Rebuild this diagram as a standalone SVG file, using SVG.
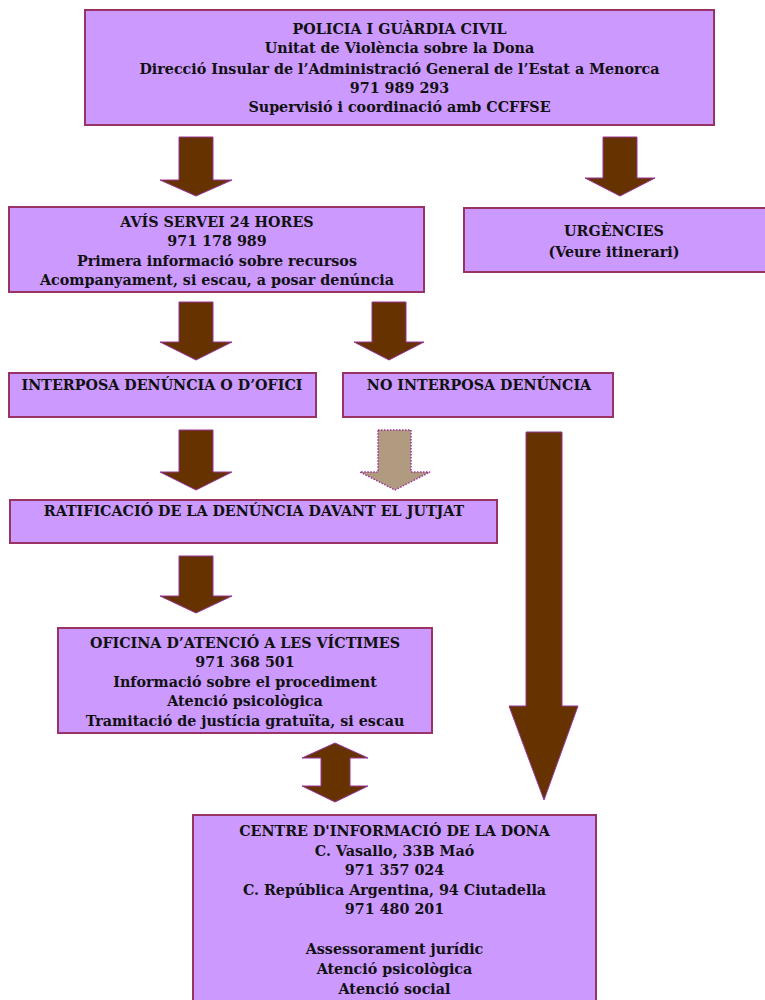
<svg xmlns="http://www.w3.org/2000/svg" width="765" height="1000" viewBox="0 0 765 1000">
<style>
.box{fill:#cc99ff;stroke:#993366;stroke-width:2}
.t{font-family:"DejaVu Serif","Liberation Serif",serif;font-weight:bold;font-size:14.3px;fill:#111;text-anchor:middle}
.arr{fill:#663300;stroke:#993399;stroke-width:1}
.arrl{fill:#b09a80;stroke:#993399;stroke-width:1.5;stroke-dasharray:1.5 1.5}
</style>
<rect width="765" height="1000" fill="#fff"/>
<g id="connectors">
<polygon class="arr" points="179,137 213,137 213,180 232,180 196,196 160,180 179,180"/>
<polygon class="arr" points="603,137 637,137 637,178 655,178 620,196 585,178 603,178"/>
<polygon class="arr" points="179,302 213,302 213,342 232,342 196,360 160,342 179,342"/>
<polygon class="arr" points="372,302 406,302 406,342 424,342 389,360 354,342 372,342"/>
<polygon class="arr" points="179,430 213,430 213,472 232,472 196,490 160,472 179,472"/>
<polygon class="arrl" points="378,430 411,430 411,472 430,472 395,490 360,472 378,472"/>
<polygon class="arr" points="526,432 562,432 562,706 578,706 544,800 509,706 526,706"/>
<polygon class="arr" points="179,556 213,556 213,596 232,596 196,613 160,596 179,596"/>
<polygon class="arr" points="335,743 368,758 350,758 350,786 368,786 335,802 302,786 321,786 321,758 302,758"/>
</g>
<g id="policia">
<rect class="box" x="85" y="10" width="629" height="115"/>
<text class="t" x="399.5" y="34">POLICIA I GUÀRDIA CIVIL</text>
<text class="t" x="399.5" y="53">Unitat de Violència sobre la Dona</text>
<text class="t" x="399.5" y="74">Direcció Insular de l’Administració General de l’Estat a Menorca</text>
<text class="t" x="399.5" y="93">971 989 293</text>
<text class="t" x="399.5" y="112">Supervisió i coordinació amb CCFFSE</text>
</g>
<g id="avis">
<rect class="box" x="9" y="207" width="415" height="85"/>
<text class="t" x="217" y="227">AVÍS SERVEI 24 HORES</text>
<text class="t" x="217" y="246">971 178 989</text>
<text class="t" x="217" y="266">Primera informació sobre recursos</text>
<text class="t" x="217" y="285">Acompanyament, si escau, a posar denúncia</text>
</g>
<g id="urgencies">
<rect class="box" x="464" y="208" width="306" height="64"/>
<text class="t" x="614" y="236">URGÈNCIES</text>
<text class="t" x="614" y="257">(Veure itinerari)</text>
</g>
<g id="interposa">
<rect class="box" x="9" y="373" width="307" height="44"/>
<text class="t" x="162" y="390">INTERPOSA DENÚNCIA O D’OFICI</text>
</g>
<g id="nointerposa">
<rect class="box" x="343" y="373" width="270" height="44"/>
<text class="t" x="479" y="390">NO INTERPOSA DENÚNCIA</text>
</g>
<g id="ratificacio">
<rect class="box" x="10" y="500" width="487" height="43"/>
<text class="t" x="254" y="516">RATIFICACIÓ DE LA DENÚNCIA DAVANT EL JUTJAT</text>
</g>
<g id="oficina">
<rect class="box" x="58" y="628" width="374" height="105"/>
<text class="t" x="245" y="648">OFICINA D’ATENCIÓ A LES VÍCTIMES</text>
<text class="t" x="245" y="667">971 368 501</text>
<text class="t" x="245" y="687">Informació sobre el procediment</text>
<text class="t" x="245" y="706">Atenció psicològica</text>
<text class="t" x="245" y="726">Tramitació de justícia gratuïta, si escau</text>
</g>
<g id="centre">
<rect class="box" x="193" y="815" width="403" height="200"/>
<text class="t" x="394.5" y="836">CENTRE D'INFORMACIÓ DE LA DONA</text>
<text class="t" x="394.5" y="856">C. Vasallo, 33B Maó</text>
<text class="t" x="394.5" y="875">971 357 024</text>
<text class="t" x="394.5" y="895">C. República Argentina, 94 Ciutadella</text>
<text class="t" x="394.5" y="914">971 480 201</text>
<text class="t" x="394.5" y="954">Assessorament jurídic</text>
<text class="t" x="394.5" y="974">Atenció psicològica</text>
<text class="t" x="394.5" y="994">Atenció social</text>
</g>
</svg>
